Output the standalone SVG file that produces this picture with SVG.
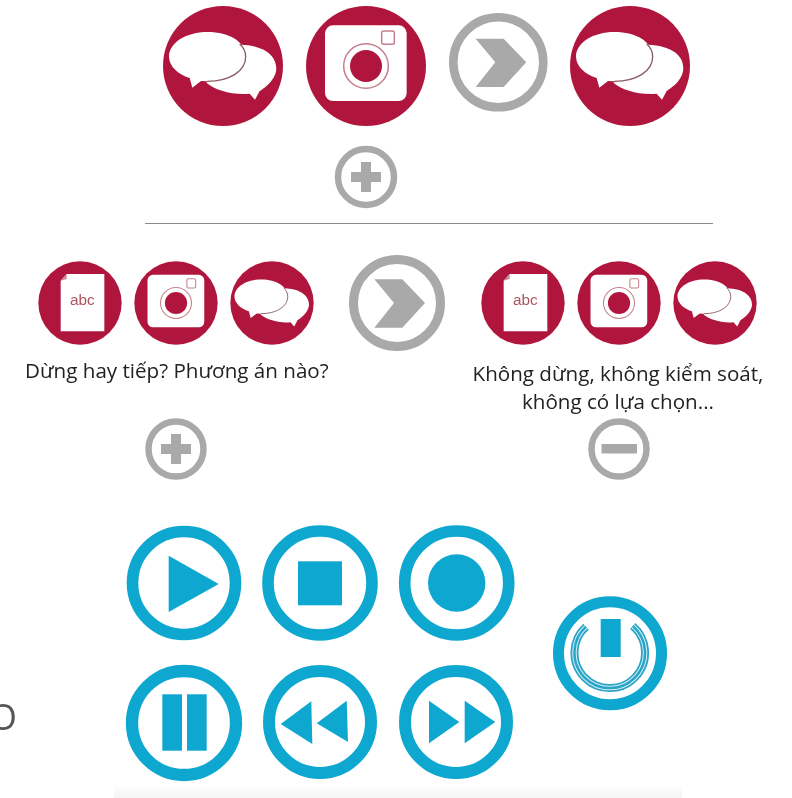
<svg xmlns="http://www.w3.org/2000/svg" width="792" height="798" viewBox="0 0 792 798">
<style>
.red{fill:#b0173c}
.w{fill:#fff}
.pk{fill:none;stroke:#c4808e;stroke-width:4.500}
.gr{fill:#a9a9a9}
.gring{fill:none;stroke:#a9a9a9}
.bl{fill:#0ea7d0}
.bring{fill:none;stroke:#0ea7d0}
.t{font-family:"Open Sans","Noto Sans",sans-serif;font-size:20.600px;fill:#222}
</style>
<defs>
<filter id="soft" x="-5%" y="-5%" width="110%" height="110%"><feGaussianBlur stdDeviation="0.5"/></filter>
<linearGradient id="band" x1="0" y1="0" x2="0" y2="1"><stop offset="0" stop-color="#fdfdfd"/><stop offset="1" stop-color="#f5f5f5"/></linearGradient>
<g id="chat">
<circle r="180" class="red"/>
<path class="w" d="M55-64C110-62 160-40 160 8C158 45 118 70 110 75L96 101L80 83C30 88-25 72-50 50L60-20Z"/>
<path class="w" d="M-162-28C-162-70-110-102-47-102C20-102 68-72 68-28C68 15 20 46-47 46L-66 45L-92 65L-100 36C-135 25-162 0-162-28Z"/>
<path d="M50-66C62-56 68-42 68-28C68 15 20 46-47 46" fill="none" stroke="#8a5a62" stroke-width="4"/>
</g>
<g id="camera">
<circle r="180" class="red"/>
<rect x="-123" y="-122" width="245" height="227" rx="24" class="w"/>
<rect x="47" y="-105" width="38" height="40" rx="6" class="pk"/>
<circle r="67" class="pk"/>
<circle r="48" class="red"/>
</g>
<g id="doc">
<circle r="125" class="red"/>
<path class="w" d="M-40-87H73V85H-58V-67Z"/>
<path d="M-58-67L-40-87V-72Z" fill="#c98a96"/>
<text x="7" y="6" text-anchor="middle" font-family="'Liberation Sans',Arial,sans-serif" font-size="46" fill="#a9545f">abc</text>
</g>
<g id="chevron">
<path class="gr" d="M-68-71H16L84 0L16 74H-68L-9 0Z"/>
</g>
<g id="plus"><path class="gr" d="M-5-15H5V-5H15V5H5V15H-5V5H-15V-5H-5Z"/></g>
</defs>

<g id="connectors"><line x1="145" y1="223.500" x2="713" y2="223.500" stroke="#8c8c8c" stroke-width="1"/></g>

<g filter="url(#soft)">
<g id="top-chat-1"><use href="#chat" transform="translate(223,66) scale(.3333)"/></g>
<g id="top-camera"><use href="#camera" transform="translate(366,66) scale(.3333)"/></g>
<g id="top-next"><circle cx="498.300" cy="62.300" r="45" stroke-width="8.600" class="gring"/><use href="#chevron" transform="translate(498.300,62.300) scale(.3333)"/></g>
<g id="top-chat-2"><use href="#chat" transform="translate(630,66) scale(.3333)"/></g>
<g id="top-plus"><circle cx="366" cy="177" r="28" stroke-width="6.500" class="gring"/><use href="#plus" transform="translate(366,177)"/></g>

<g id="left-doc"><use href="#doc" transform="translate(80,303) scale(.3333)"/></g>
<g id="left-camera"><use href="#camera" transform="translate(176,303) scale(.2315)"/></g>
<g id="left-chat"><use href="#chat" transform="translate(272,303) scale(.2315)"/></g>
<g id="mid-next"><circle cx="397" cy="303" r="43.500" stroke-width="9" class="gring"/><use href="#chevron" transform="translate(397,303) scale(.3333)"/></g>
<g id="right-doc"><use href="#doc" transform="translate(523,303) scale(.3333)"/></g>
<g id="right-camera"><use href="#camera" transform="translate(619,303) scale(.2315)"/></g>
<g id="right-chat"><use href="#chat" transform="translate(715,303) scale(.2315)"/></g>
<g id="left-plus"><circle cx="176" cy="449" r="27.500" stroke-width="6.500" class="gring"/><use href="#plus" transform="translate(176,449)"/></g>
<g id="right-minus"><circle cx="619" cy="449" r="27.500" stroke-width="6.500" class="gring"/><rect x="601.500" y="444" width="35.500" height="9.500" class="gr"/></g>

<g id="play"><circle cx="184" cy="583" r="51.500" stroke-width="11.600" class="bring"/><path class="bl" d="M168.700 555.700L218.700 584L168.700 612Z"/></g>
<g id="stop"><circle cx="320" cy="583" r="52" stroke-width="11.600" class="bring"/><rect x="298" y="561.300" width="44" height="44" class="bl"/></g>
<g id="record"><circle cx="456.700" cy="583" r="52" stroke-width="11.600" class="bring"/><circle cx="456.700" cy="583" r="28.700" class="bl"/></g>
<g id="pause"><circle cx="184" cy="723" r="52" stroke-width="12.300" class="bring"/><rect x="162.300" y="694.300" width="19.700" height="56.400" class="bl"/><rect x="187" y="694.300" width="19.700" height="56.400" class="bl"/></g>
<g id="rewind"><circle cx="320" cy="722" r="51" stroke-width="12" class="bring"/><path class="bl" d="M280.700 724L311.300 701.300L312.300 744Z"/><path class="bl" d="M316.700 723.300L346.700 700.700L348 742Z"/></g>
<g id="forward"><circle cx="456" cy="722" r="51" stroke-width="12" class="bring"/><path class="bl" d="M429 700.700L459.300 722L429 743.300Z"/><path class="bl" d="M464.700 700.700L495.300 722L464.700 743.300Z"/></g>
<g id="power"><circle cx="610" cy="653.300" r="51.500" stroke-width="11" class="bring"/>
<rect x="600.700" y="619" width="20" height="38" class="bl"/>
<path d="M586 626.700A35.300 35.300 0 1 0 632.700 626" fill="none" stroke="#2aa5c8" stroke-width="8"/>
<path d="M586 626.700A35.300 35.300 0 1 0 632.700 626" fill="none" stroke="#d5eef5" stroke-width="4.500"/>
<path d="M586 626.700A35.300 35.300 0 1 0 632.700 626" fill="none" stroke="#2aa5c8" stroke-width="2.500"/></g>
</g>

<g id="captions">
<text class="t" x="25" y="378">Dừng hay tiếp? Phương án nào?</text>
<text class="t" x="618" y="380.500" text-anchor="middle">Không dừng, không kiểm soát,</text>
<text class="t" x="618" y="409" text-anchor="middle">không có lựa chọn...</text>
</g>
<text id="edge-letter" x="-11" y="730" font-family="'Open Sans',sans-serif" font-size="36" fill="#555">O</text>
<rect id="bottom-band" x="114" y="787" width="568" height="11" fill="url(#band)"/>
</svg>
